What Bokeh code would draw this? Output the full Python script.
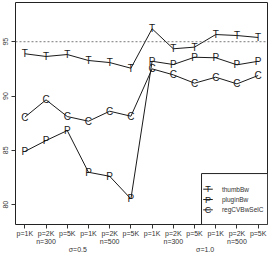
from bokeh.plotting import figure
from bokeh.models import Range1d, FixedTicker, LinearAxis, Span, ColumnDataSource
from bokeh.embed import file_html
from bokeh.resources import INLINE
from bokeh.core.properties import value

# ---- data ----
positions = list(range(1, 13))
p_labels = ["p=1K", "p=2K", "p=5K"] * 4
n_labels = ["n=300", "n=500", "n=300", "n=500"]
sigma_labels = ["σ=0.5", "σ=1.0"]
y_ticks = [80, 85, 90, 95]
reference_level = 95
series_names = ["thumbBw", "pluginBw", "regCVBwSelC"]
series_symbols = ["T", "P", "C"]
thumbBw = [93.89, 93.64, 93.82, 93.27, 93.08, 92.56, 96.19, 94.35, 94.50, 95.66, 95.57, 95.39]
pluginBw = [84.89, 85.90, 86.82, 82.98, 82.61, 80.53, 93.20, 92.90, 93.57, 93.52, 92.87, 93.20]
regCVBwSelC = [88.05, 89.65, 88.11, 87.68, 88.60, 88.14, 92.50, 91.95, 91.18, 91.73, 91.12, 91.89]
series_values = [thumbBw, pluginBw, regCVBwSelC]

FONT = value("Liberation Sans")
INK = "#1a1a1a"
LABEL_INK = "#333333"

x0, x1 = 0.56, 12.44
y0, y1 = 78.17, 98.61

p = figure(width=268, height=255, output_backend="svg", toolbar_location=None,
           x_range=Range1d(x0, x1), y_range=Range1d(y0, y1),
           x_axis_location=None, y_axis_location=None,
           min_border_left=15, min_border_right=1, min_border_top=2, min_border_bottom=0)
p.grid.visible = False
p.outline_line_color = "#222222"
p.outline_line_width = 1
p.background_fill_color = "white"
p.border_fill_color = "white"


def style_axis(ax, tick_out, standoff):
    ax.major_label_text_font = "Liberation Sans"
    ax.major_label_text_font_size = "7px"
    ax.major_label_text_color = LABEL_INK
    ax.major_tick_out = tick_out
    ax.major_tick_in = 0
    ax.minor_tick_out = 0
    ax.minor_tick_in = 0
    ax.major_label_standoff = standoff
    ax.axis_label_standoff = 0
    ax.axis_line_color = None
    ax.major_tick_line_color = LABEL_INK if tick_out else None


# y axis
yax = LinearAxis(ticker=FixedTicker(ticks=y_ticks))
style_axis(yax, 4, 3)
yax.major_label_orientation = "vertical"
p.add_layout(yax, "left")

# x axis: p labels, with n labels as second line under the middle tick of each group
overrides = {}
for i in positions:
    grp, within = (i - 1) // 3, (i - 1) % 3
    lab = p_labels[i - 1]
    if within == 1:
        lab += "\n" + n_labels[grp]
    overrides[i] = lab
xax = LinearAxis(ticker=FixedTicker(ticks=positions), major_label_overrides=overrides)
style_axis(xax, 4, 1)
xax.major_label_text_line_height = 1.2
p.add_layout(xax, "below")

# sigma axis
sig_ticks = [sum(positions[0:6]) / 6, sum(positions[6:12]) / 6]
sax = LinearAxis(ticker=FixedTicker(ticks=sig_ticks),
                 major_label_overrides={t: s for t, s in zip(sig_ticks, sigma_labels)})
style_axis(sax, 0, -2)
p.add_layout(sax, "below")

# reference line
p.add_layout(Span(location=reference_level, dimension="width", line_dash="2 2",
                  line_color="#555555", line_width=0.8))

# series
for name, sym, vals in zip(series_names, series_symbols, series_values):
    src = ColumnDataSource(dict(x=positions, y=vals, t=[sym] * len(vals)))
    p.line("x", "y", source=src, line_color=INK, line_width=1)
    p.text("x", "y", text="t", source=src, text_font=FONT, text_font_size="10px",
           text_align="center", text_baseline="middle", text_color=INK)

# legend (drawn in data space, bottom right)
leg_left, leg_top = 9.33, 82.86
row_y = [81.42, 80.47, 79.52]
p.quad(left=[leg_left], right=[x1], top=[leg_top], bottom=[y0],
       fill_color="white", line_color="#222222", line_width=1)
for name, sym, ry in zip(series_names, series_symbols, row_y):
    p.segment(x0=[9.41], x1=[9.86], y0=[ry], y1=[ry], line_color=INK, line_width=1)
    p.text(x=[9.63], y=[ry], text=[sym], text_font=FONT, text_font_size="9px",
           text_align="center", text_baseline="middle", text_color=INK)
    p.text(x=[10.29], y=[ry], text=[name], text_font=FONT, text_font_size="6.5px",
           text_align="left", text_baseline="middle", text_color=LABEL_INK)

open("out.html", "w").write(file_html(p, INLINE))
